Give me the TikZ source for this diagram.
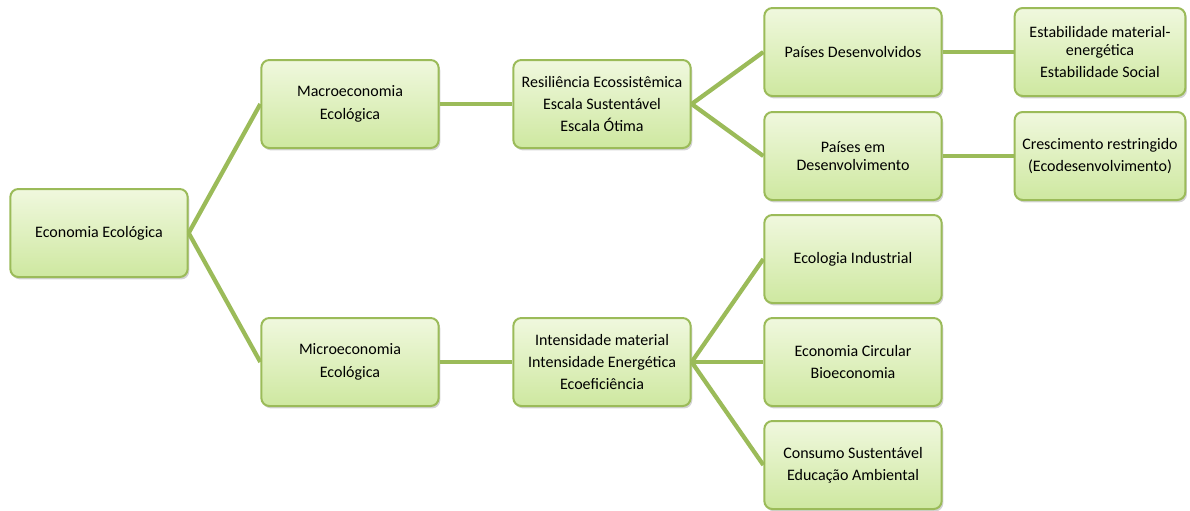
\documentclass[tikz,border=0pt]{standalone}
\usepackage{fontspec}
\setmainfont{Carlito}
\usetikzlibrary{shadows}
\definecolor{olive}{RGB}{155,187,89}
\definecolor{topgreen}{RGB}{240,248,222}
\definecolor{botgreen}{RGB}{206,232,160}
\tikzset{
  box/.style={draw=olive, line width=1.5pt, rounded corners=6pt,
    top color=topgreen, bottom color=botgreen,
    minimum width=133pt, minimum height=66pt, align=center,
    font=\fontsize{12}{13}\selectfont,
    drop shadow={opacity=0.35, shadow xshift=1.2pt, shadow yshift=-1.8pt}},
  link/.style={draw=olive, line width=3.2pt}
}
\begin{document}
\begin{tikzpicture}[x=0.75pt,y=-0.75pt]
\useasboundingbox (0,0) rectangle (1190,511);

\node[box] (econ) at (99,233) {Economia Ecológica};

\node[box] (macro) at (350,104) {Macroeconomia\\[4.5pt]Ecológica};
\node[box] (micro) at (350,362) {Microeconomia\\[4.5pt]Ecológica};

\node[box] (resil) at (602,104) {Resiliência Ecossistêmica\\[3.5pt]Escala Sustentável\\[3.5pt]Escala Ótima};
\node[box] (inten) at (602,362) {Intensidade material\\[3.5pt]Intensidade Energética\\[3.5pt]Ecoeficiência};

\node[box] (desenv) at (853,52) {Países Desenvolvidos};
\node[box] (emdes) at (853,156) {Países em\\Desenvolvimento};
\node[box] (indus) at (853,259) {Ecologia Industrial};
\node[box] (circ) at (853,362) {Economia Circular\\[3.5pt]Bioeconomia};
\node[box] (cons) at (853,465) {Consumo Sustentável\\[3.5pt]Educação Ambiental};

\node[box, minimum width=128pt] (estab) at (1100,52) {Estabilidade material-\\energética\\[3.5pt]Estabilidade Social};
\node[box, minimum width=128pt] (cresc) at (1100,156) {Crescimento restringido\\[3.5pt](Ecodesenvolvimento)};

% ligacoes
\draw[link] (econ.east) -- (macro.west);
\draw[link] (econ.east) -- (micro.west);
\draw[link] (macro.east) -- (resil.west);
\draw[link] (micro.east) -- (inten.west);
\draw[link] (resil.east) -- (desenv.west);
\draw[link] (resil.east) -- (emdes.west);
\draw[link] (inten.east) -- (indus.west);
\draw[link] (inten.east) -- (circ.west);
\draw[link] (inten.east) -- (cons.west);
\draw[link] (desenv.east) -- (estab.west);
\draw[link] (emdes.east) -- (cresc.west);

\end{tikzpicture}
\end{document}
